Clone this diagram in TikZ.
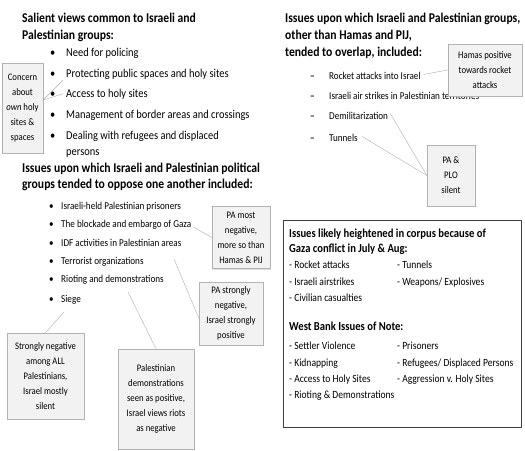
\documentclass[tikz,border=0pt]{standalone}
\usepackage{fontspec}
\setmainfont{Carlito}[FakeStretch=0.87]
\usepackage{tikz}
\usetikzlibrary{positioning, calc, shadows}

\begin{document}
\begin{tikzpicture}[
    x=1pt, y=-1pt,
    % Custom styles for headings, list items and callouts
    heading/.style={font=\fontsize{13.4}{15}\selectfont\bfseries, anchor=base west, inner sep=0pt},
    bigitem/.style={font=\fontsize{12}{14}\selectfont, anchor=base west, inner sep=0pt},
    smallitem/.style={font=\fontsize{10.5}{12}\selectfont, anchor=base west, inner sep=0pt},
    boxhead/.style={font=\fontsize{12.2}{14}\selectfont\bfseries, anchor=base west, inner sep=0pt},
    boxitem/.style={font=\fontsize{11}{13}\selectfont, anchor=base west, inner sep=0pt},
    callout/.style={draw=gray!60, fill=gray!10, align=center, inner sep=1pt,
        font=\fontsize{10}{15}\selectfont,
        drop shadow={opacity=0.25, shadow xshift=1pt, shadow yshift=-1pt}},
    link/.style={draw=gray!65, line width=0.4pt}
]
\useasboundingbox (0,0) rectangle (525,450);

% ==========================================
% TOP LEFT: COMMON VIEWS
% ==========================================
\node[heading] (t1a) at (22,22) {Salient views common to Israeli and};
\node[heading] (t1b) at (22,39) {Palestinian groups:};

\foreach \y/\txt [count=\i] in {56/Need for policing,
    77/Protecting public spaces and holy sites,
    97/Access to holy sites,
    118/Management of border areas and crossings,
    139/Dealing with refugees and displaced} {
    \node[bigitem] at (50,\y) {\textbullet};
    \node[bigitem] (s\i) at (66,\y) {\txt};
}
\node[bigitem] (s5b) at (66,155) {persons};

% Callout on holy sites
\node[callout, minimum width=41pt, minimum height=90pt] (concern) at (22.5,108)
    {Concern\\about\\\textit{own} holy\\sites \&\\spaces};
\draw[link] (concern.21) -- ($(s2.south west)+(-3,1)$);
\draw[link] (concern.21) -- ($(s3.west)+(-3,0)$);

% ==========================================
% MIDDLE LEFT: OPPOSING VIEWS
% ==========================================
\node[heading] (t2a) at (22,172) {Issues upon which Israeli and Palestinian political};
\node[heading] (t2b) at (22,188) {groups tended to oppose one another included:};

\foreach \y/\txt [count=\i] in {209/Israeli-held Palestinian prisoners,
    227/The blockade and embargo of Gaza,
    246/IDF activities in Palestinian areas,
    264/Terrorist organizations,
    282/Rioting and demonstrations,
    302/Siege} {
    \node[smallitem] at (49,\y) {\textbullet};
    \node[smallitem] (o\i) at (61,\y) {\txt};
}

% Callouts on the opposing views
\node[callout, minimum width=58pt, minimum height=62pt] (pamost) at (241,237.5)
    {PA most\\negative,\\more so than\\Hamas \& PIJ};
\node[callout, minimum width=64pt, minimum height=63pt] (pastrong) at (231,313.5)
    {PA strongly\\negative,\\Israel strongly\\positive};
\node[callout, minimum width=77pt, minimum height=86pt] (strongneg) at (45.5,376)
    {Strongly negative\\among ALL\\Palestinians,\\Israel mostly\\silent};
\node[callout, minimum width=76pt, minimum height=100pt] (paldemo) at (156,399)
    {Palestinian\\demonstrations\\seen as positive,\\Israel views riots\\as negative};

\coordinate (idfpt) at (174,259);
\coordinate (riotpt) at (128,292);
\coordinate (siegept) at (64,312);
\draw[link] ($(o2.south east)+(2,-2)$) -- (pamost.west);
\draw[link] (idfpt) -- (pastrong.188);
\draw[link] (riotpt) -- (paldemo.north);
\draw[link] (siegept) -- (strongneg.north);

% ==========================================
% TOP RIGHT: OVERLAPPING VIEWS
% ==========================================
\node[heading] (t3a) at (285,22) {Issues upon which Israeli and Palestinian groups,};
\node[heading] (t3b) at (285,39) {other than Hamas and PIJ,};
\node[heading] (t3c) at (285,56) {tended to overlap, included:};

\foreach \y/\txt [count=\i] in {79/Rocket attacks into Israel,
    99/Israeli air strikes in Palestinian territories,
    119/Demilitarization,
    141/Tunnels} {
    \node[smallitem] at (310,\y) {\textbf{\textendash}};
    \node[smallitem] (d\i) at (329,\y) {\txt};
}

% Callouts on the overlapping views
\node[callout, minimum width=74pt, minimum height=52pt] (hamas) at (485,70)
    {Hamas positive\\towards rocket\\attacks};
\node[callout, minimum width=48pt, minimum height=61pt] (plo) at (451,175.5)
    {PA \&\\PLO\\silent};
\draw[link] ($(d1.east)+(3,-1)$) -- (hamas.west);
\draw[link] ($(d3.east)+(2,-2)$) -- (plo.west);
\draw[link] ($(d4.east)+(4,-1)$) -- (plo.west);

% ==========================================
% BOTTOM RIGHT: CORPUS BOX
% ==========================================
\node[draw=black!75, line width=0.8pt, minimum width=238pt, minimum height=207pt,
    inner sep=0pt] (corpus) at (402,323.5) {};

\node[boxhead] (c1a) at (289,237) {Issues likely heightened in corpus because of};
\node[boxhead] (c1b) at (289,252) {Gaza conflict in July \& Aug:};
\node[boxitem] (g1) at (289,268) {- Rocket attacks};
\node[boxitem] (g2) at (289,285) {- Israeli airstrikes};
\node[boxitem] (g3) at (289,301) {- Civilian casualties};
\node[boxitem] (g4) at (397,268) {- Tunnels};
\node[boxitem] (g5) at (397,285) {- Weapons/ Explosives};

\node[boxhead] (c2) at (289,330) {West Bank Issues of Note:};
\node[boxitem] (w1) at (289,349) {- Settler Violence};
\node[boxitem] (w2) at (289,366) {- Kidnapping};
\node[boxitem] (w3) at (289,382) {- Access to Holy Sites};
\node[boxitem] (w4) at (289,398) {- Rioting \& Demonstrations};
\node[boxitem] (w5) at (397,349) {- Prisoners};
\node[boxitem] (w6) at (397,366) {- Refugees/ Displaced Persons};
\node[boxitem] (w7) at (397,382) {- Aggression v. Holy Sites};

\end{tikzpicture}
\end{document}
